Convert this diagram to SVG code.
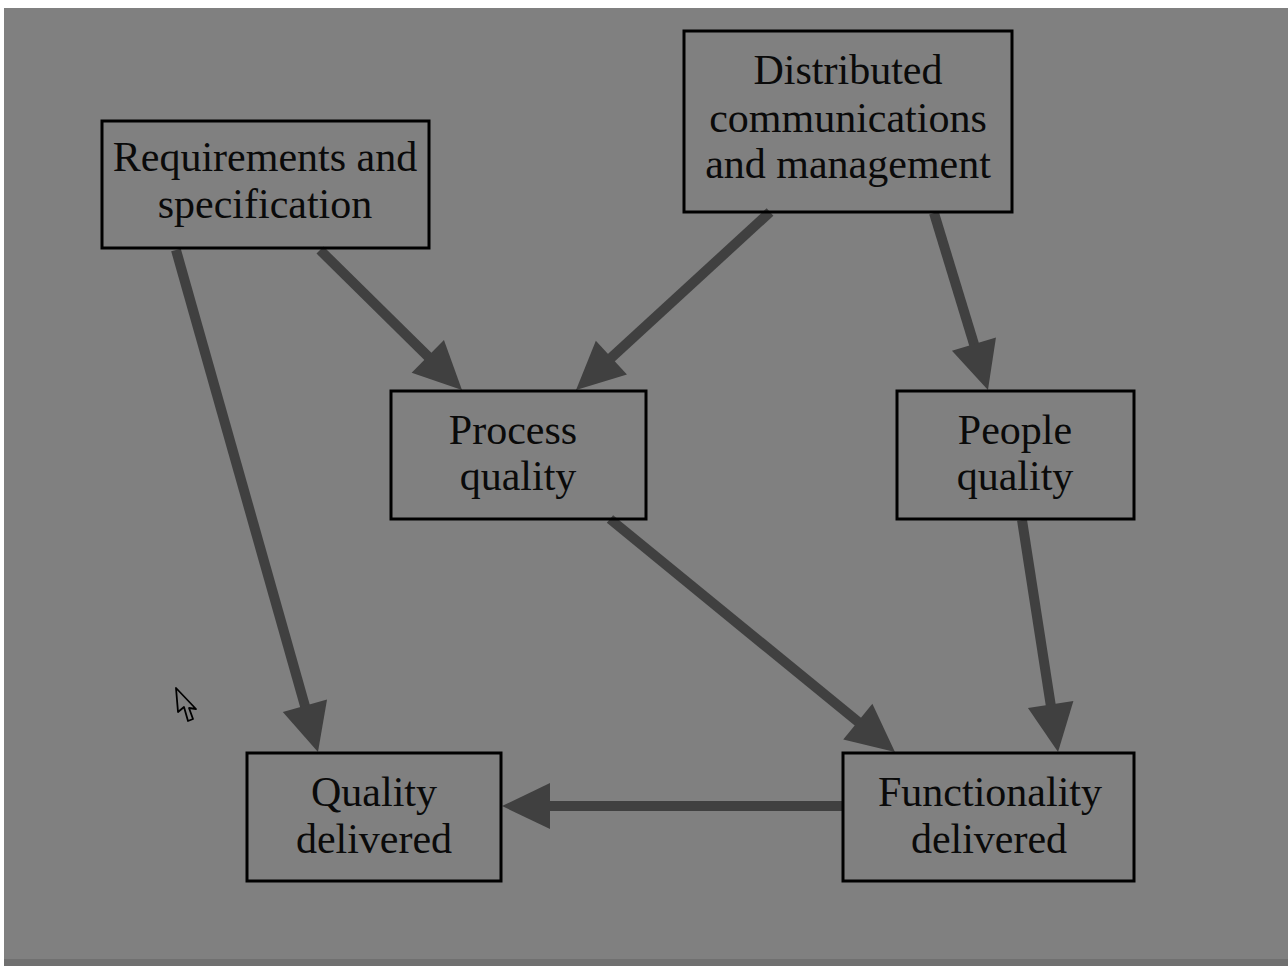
<svg xmlns="http://www.w3.org/2000/svg" width="1288" height="966" viewBox="0 0 1288 966">
  <style>
    .box { fill: none; stroke: #000; stroke-width: 3; }
    .lbl { font-family: "Liberation Serif", "Times New Roman", serif; font-size: 42px; fill: #0a0a0a; text-anchor: middle; }
    .edge { stroke: #404040; stroke-width: 10; fill: none; marker-end: url(#head); }
  </style>
  <defs>
    <marker id="head" markerUnits="userSpaceOnUse" markerWidth="48" markerHeight="46" viewBox="0 0 48 46" refX="8" refY="23" orient="auto" overflow="visible">
      <path d="M0,0 L48,23 L0,46 Z" fill="#404040"/>
    </marker>
  </defs>

  <!-- canvas -->
  <rect x="0" y="0" width="1288" height="966" fill="#ffffff"/>
  <rect x="4" y="8" width="1284" height="958" fill="#808080"/>
  <rect x="4" y="959" width="1284" height="7" fill="#707070"/>

  <!-- connectors -->
  <g id="connectors">
    <line class="edge" x1="176" y1="250" x2="307.1" y2="713.5"/>
    <line class="edge" x1="320" y1="250" x2="433.5" y2="361.9"/>
    <line class="edge" x1="770" y1="212" x2="605.5" y2="363"/>
    <line class="edge" x1="934" y1="213" x2="976.3" y2="351.8"/>
    <line class="edge" x1="610" y1="519" x2="864" y2="726.7"/>
    <line class="edge" x1="1022" y1="520" x2="1051.9" y2="712.5"/>
    <line class="edge" x1="843" y1="806" x2="542" y2="806"/>
  </g>

  <!-- nodes -->
  <g id="requirements">
    <rect class="box" x="102" y="121" width="327" height="127"/>
    <text class="lbl" x="265" y="171">Requirements and</text>
    <text class="lbl" x="265" y="218">specification</text>
  </g>
  <g id="distributed">
    <rect class="box" x="684" y="31" width="328" height="181"/>
    <text class="lbl" x="848" y="84">Distributed</text>
    <text class="lbl" x="848" y="132">communications</text>
    <text class="lbl" x="848" y="178">and management</text>
  </g>
  <g id="process-quality">
    <rect class="box" x="391" y="391" width="255" height="128"/>
    <text class="lbl" x="513" y="444">Process</text>
    <text class="lbl" x="518" y="490">quality</text>
  </g>
  <g id="people-quality">
    <rect class="box" x="897" y="391" width="237" height="128"/>
    <text class="lbl" x="1015" y="444">People</text>
    <text class="lbl" x="1015" y="490">quality</text>
  </g>
  <g id="quality-delivered">
    <rect class="box" x="247" y="753" width="254" height="128"/>
    <text class="lbl" x="374" y="806">Quality</text>
    <text class="lbl" x="374" y="853">delivered</text>
  </g>
  <g id="functionality-delivered">
    <rect class="box" x="843" y="753" width="291" height="128"/>
    <text class="lbl" x="990" y="806">Functionality</text>
    <text class="lbl" x="989" y="853">delivered</text>
  </g>

  <!-- pointer -->
  <path d="M176,688 L178,712 L184,707 L188,721 L193,719 L189,708 L196,709 Z" fill="#808080" stroke="#000" stroke-width="1.8" stroke-linejoin="round"/>
</svg>
